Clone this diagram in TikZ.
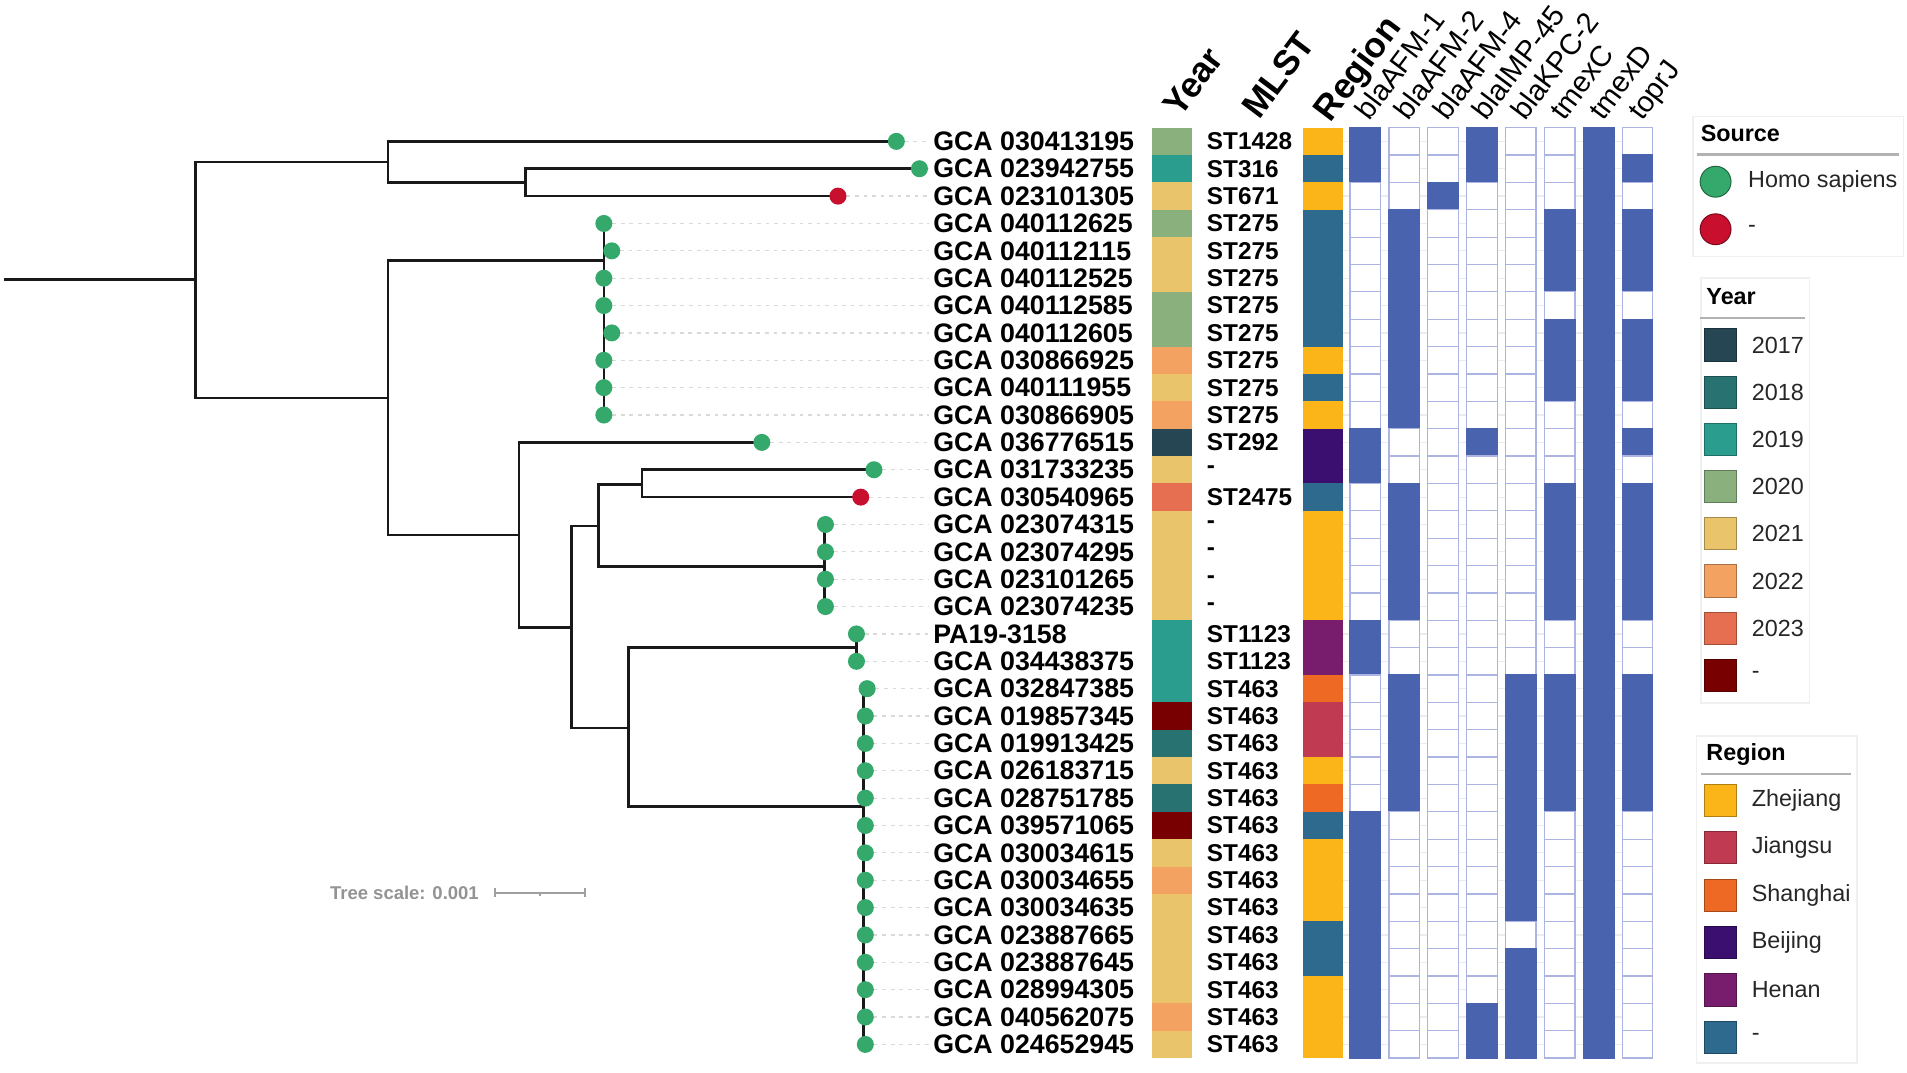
\documentclass[tikz,border=0pt]{standalone}
\usepackage{fontspec}
\setmainfont{Liberation Sans}
\usetikzlibrary{backgrounds}
\definecolor{y2017}{HTML}{264653}
\definecolor{y2018}{HTML}{287271}
\definecolor{y2019}{HTML}{2A9D8F}
\definecolor{y2020}{HTML}{8AB17D}
\definecolor{y2021}{HTML}{E9C46A}
\definecolor{y2022}{HTML}{F4A261}
\definecolor{y2023}{HTML}{E76F51}
\definecolor{yna}{HTML}{780000}
\definecolor{rzj}{HTML}{FCB519}
\definecolor{rjs}{HTML}{C03A51}
\definecolor{rsh}{HTML}{EE6A24}
\definecolor{rbj}{HTML}{3B0F70}
\definecolor{rhn}{HTML}{781C6D}
\definecolor{rna}{HTML}{2E6A8E}
\definecolor{genefill}{HTML}{4A63AF}
\definecolor{cellline}{HTML}{ABB4E3}
\definecolor{srchs}{HTML}{35A96B}
\definecolor{srcna}{HTML}{C8102E}
\tikzset{branch/.style={line width=1.1pt, black!90},
    leafdot/.style={circle, inner sep=0pt, minimum size=7pt},
    guide/.style={gray!30, line width=0.5pt, dash pattern=on 1.5pt off 2pt},
    faintrow/.style={gray!15, line width=0.5pt},
    taxon/.style={anchor=west, inner sep=0pt, font=\fontsize{11}{13}\selectfont\bfseries},
    stname/.style={anchor=west, inner sep=0pt, font=\fontsize{10}{12}\selectfont\bfseries},
    colhead/.style={anchor=base west, inner sep=0pt, rotate=53, font=\fontsize{14.5}{16}\selectfont\bfseries},
    genehead/.style={anchor=base west, inner sep=0pt, rotate=53, font=\fontsize{12}{14}\selectfont},
    cell0/.style={draw=cellline, fill=white, line width=0.5pt},
    cell1/.style={draw=genefill, fill=genefill, line width=0.5pt},
    legbox/.style={draw=gray!12, line width=0.6pt},
    legline/.style={gray!60, line width=1pt},
    legtitle/.style={anchor=west, inner sep=0pt, font=\fontsize{9.6}{11}\selectfont\bfseries},
    legtext/.style={anchor=west, inner sep=0pt, text=black!85, font=\fontsize{9.6}{11}\selectfont},
    legdot/.style={circle, inner sep=0pt, minimum size=12.7pt, fill=#1, draw=#1!60!black, line width=0.4pt},
    legkey/.style={inner sep=0pt, minimum size=13.25pt, fill=#1, draw=#1!70!black, line width=0.4pt},
    scalebar/.style={gray!75, line width=0.7pt},
    }
\begin{document}
\begin{tikzpicture}[x=0.5pt, y=-0.5pt]
\useasboundingbox (0,0) rectangle (1568,881.5);
% rows: label / MLST / year / region / tip x / source / genes
\foreach \lab/\st/\yr/\rg/\dx/\src/\gn [count=\i] in {
  {GCA 030413195}/ST1428/y2020/rzj/737/srchs/{1,0,0,1,0,0,1,0},
  {GCA 023942755}/ST316/y2019/rna/756/srchs/{1,0,0,1,0,0,1,1},
  {GCA 023101305}/ST671/y2021/rzj/689/srcna/{0,0,1,0,0,0,1,0},
  {GCA 040112625}/ST275/y2020/rna/496.5/srchs/{0,1,0,0,0,1,1,1},
  {GCA 040112115}/ST275/y2021/rna/503/srchs/{0,1,0,0,0,1,1,1},
  {GCA 040112525}/ST275/y2021/rna/496.5/srchs/{0,1,0,0,0,1,1,1},
  {GCA 040112585}/ST275/y2020/rna/496.5/srchs/{0,1,0,0,0,0,1,0},
  {GCA 040112605}/ST275/y2020/rna/503/srchs/{0,1,0,0,0,1,1,1},
  {GCA 030866925}/ST275/y2022/rzj/496.5/srchs/{0,1,0,0,0,1,1,1},
  {GCA 040111955}/ST275/y2021/rna/496.5/srchs/{0,1,0,0,0,1,1,1},
  {GCA 030866905}/ST275/y2022/rzj/496.5/srchs/{0,1,0,0,0,0,1,0},
  {GCA 036776515}/ST292/y2017/rbj/626.4/srchs/{1,0,0,1,0,0,1,1},
  {GCA 031733235}/-/y2021/rbj/718.6/srchs/{1,0,0,0,0,0,1,0},
  {GCA 030540965}/ST2475/y2023/rna/707.7/srcna/{0,1,0,0,0,1,1,1},
  {GCA 023074315}/-/y2021/rzj/678.7/srchs/{0,1,0,0,0,1,1,1},
  {GCA 023074295}/-/y2021/rzj/678.7/srchs/{0,1,0,0,0,1,1,1},
  {GCA 023101265}/-/y2021/rzj/678.7/srchs/{0,1,0,0,0,1,1,1},
  {GCA 023074235}/-/y2021/rzj/678.7/srchs/{0,1,0,0,0,1,1,1},
  {PA19-3158}/ST1123/y2019/rhn/704.2/srchs/{1,0,0,0,0,0,1,0},
  {GCA 034438375}/ST1123/y2019/rhn/704.2/srchs/{1,0,0,0,0,0,1,0},
  {GCA 032847385}/ST463/y2019/rsh/713/srchs/{0,1,0,0,1,1,1,1},
  {GCA 019857345}/ST463/yna/rjs/711.5/srchs/{0,1,0,0,1,1,1,1},
  {GCA 019913425}/ST463/y2018/rjs/711.5/srchs/{0,1,0,0,1,1,1,1},
  {GCA 026183715}/ST463/y2021/rzj/711.5/srchs/{0,1,0,0,1,1,1,1},
  {GCA 028751785}/ST463/y2018/rsh/711.5/srchs/{0,1,0,0,1,1,1,1},
  {GCA 039571065}/ST463/yna/rna/711.5/srchs/{1,0,0,0,1,0,1,0},
  {GCA 030034615}/ST463/y2021/rzj/711.5/srchs/{1,0,0,0,1,0,1,0},
  {GCA 030034655}/ST463/y2022/rzj/711.5/srchs/{1,0,0,0,1,0,1,0},
  {GCA 030034635}/ST463/y2021/rzj/711.5/srchs/{1,0,0,0,1,0,1,0},
  {GCA 023887665}/ST463/y2021/rna/711.5/srchs/{1,0,0,0,0,0,1,0},
  {GCA 023887645}/ST463/y2021/rna/711.5/srchs/{1,0,0,0,1,0,1,0},
  {GCA 028994305}/ST463/y2021/rzj/711.5/srchs/{1,0,0,0,1,0,1,0},
  {GCA 040562075}/ST463/y2022/rzj/711.5/srchs/{1,0,0,1,1,0,1,0},
  {GCA 024652945}/ST463/y2021/rzj/711.5/srchs/{1,0,0,1,1,0,1,0}%
  }{
  \pgfmathsetmacro\yy{116.25+22.5*(\i-1)}
  \pgfmathsetmacro\yt{105+22.5*(\i-1)}
  \coordinate (l\i) at (\dx,\yy);
  \begin{pgfonlayer}{background}
    \draw[guide] (l\i) -- (764,\yy);
    \draw[faintrow] (1104,\yy) -- (1359,\yy);
  \end{pgfonlayer}
  \node[leafdot, fill=\src] (d\i) at (l\i) {};
  \node[taxon] (t\i) at (767,\yy) {\lab};
  \fill[\yr] (947,\yt) rectangle +(33,22.5);
  \node[stname] (m\i) at (992,\yy) {\st};
  \fill[\rg] (1071,\yt) rectangle +(33,22.5);
  \foreach \g [count=\j] in \gn
    \draw[cell\g] (1110+32*\j-32,\yt) rectangle +(25,22.5);
  }%rows
% tree
\coordinate (r0) at (3,229.7);
\coordinate (n1) at (161,229.7);
\coordinate (nA) at (319,133.1);
\coordinate (nB) at (432.2,150);
\coordinate (nC) at (319,327.2);
\coordinate (nD) at (496.5,214.4);
\coordinate (nE) at (426.7,440);
\coordinate (nF) at (469.8,516);
\coordinate (nG) at (492.2,432.5);
\coordinate (nK) at (528,398.6);
\coordinate (nM) at (678,466);
\coordinate (nH) at (516.8,598.7);
\coordinate (nP) at (704.2,532.5);
\coordinate (nQ) at (710,663.3);
\begin{pgfonlayer}{background}
\draw[branch] (r0) -- (n1) (n1) |- (nA) (n1) |- (nC);
\draw[branch] (nA) |- (l1) (nA) |- (nB) (nB) |- (l2) (nB) |- (l3);
\draw[branch] (nC) |- (nD) (nC) |- (nE);
\draw[branch] \foreach \k in {4,...,11} {(nD) |- (l\k)};
\draw[branch] (nE) |- (l12) (nE) |- (nF) (nF) |- (nG) (nF) |- (nH);
\draw[branch] (nG) |- (nK) (nG) |- (nM) (nK) |- (l13) (nK) |- (l14);
\draw[branch] \foreach \k in {15,...,18} {(nM) |- (l\k)};
\draw[branch] (nH) |- (nP) (nH) |- (nQ) (nP) |- (l19) (nP) |- (l20);
\draw[branch] \foreach \k in {21,...,34} {(nQ) |- (l\k)};
\end{pgfonlayer}
% column heads
\node[colhead] (hyear) at (970,98) {Year};
\node[colhead] (hmlst) at (1035,99.5) {MLST};
\node[colhead] (hreg) at (1094,101.5) {Region};
\foreach \gname [count=\j] in {blaAFM-1,blaAFM-2,blaAFM-4,blaIMP-45,blaKPC-2,tmexC,tmexD,toprJ}
  \node[genehead] (g\j) at (1126+32*\j-32,100.5) {\gname};
% tree scale
\node[anchor=west, inner sep=0pt, text=gray!85, font=\fontsize{7.6}{9}\selectfont\bfseries] (tsc) at (271,734) {Tree scale: 0.001};
\coordinate (sb1) at (407,734);
\coordinate (sb2) at (481,734);
\coordinate (sbm) at (444,734);
\draw[scalebar] (sb1) -- (sb2) (sb1) ++(0,-3.7) -- ++(0,7.4) (sb2) ++(0,-3.7) -- ++(0,7.4) (sbm) -- ++(0,2.5);
% legend: source
\draw[legbox] (1392,96) rectangle (1565,211);
\node[legtitle] (srct) at (1398,109.5) {Source};
\draw[legline] (1395,127) -- (1561,127);
\node[legdot=srchs] (ks1) at (1410.6,149.4) {};
\node[legtext] (ts1) at (1437,149.4) {Homo sapiens};
\node[legdot=srcna] (ks2) at (1410.6,188.5) {};
\node[legtext] (ts2) at (1437,188.5) {-};
% legend: year
\draw[legbox] (1398.6,228.6) rectangle (1488,578);
\node[legtitle] (yrt) at (1402.7,244) {Year};
\draw[legline] (1398,261.6) -- (1484,261.6);
\foreach \c/\t [count=\k] in {y2017/2017,y2018/2018,y2019/2019,y2020/2020,y2021/2021,y2022/2022,y2023/2023,yna/-}{
  \node[legkey=\c] (ky\k) at (1414.5,283.7+38.8*\k-38.8) {};
  \node[legtext] (ty\k) at (1440,283.7+38.8*\k-38.8) {\t};
  }
% legend: region
\draw[legbox] (1395,605) rectangle (1527,874);
\node[legtitle] (rgt) at (1402.7,620) {Region};
\draw[legline] (1399,636.5) -- (1522,636.5);
\foreach \c/\t [count=\k] in {rzj/Zhejiang,rjs/Jiangsu,rsh/Shanghai,rbj/Beijing,rhn/Henan,rna/-}{
  \node[legkey=\c] (kr\k) at (1414.5,658+39*\k-39) {};
  \node[legtext] (tr\k) at (1440,658+39*\k-39) {\t};
  }
\end{tikzpicture}
\end{document}
